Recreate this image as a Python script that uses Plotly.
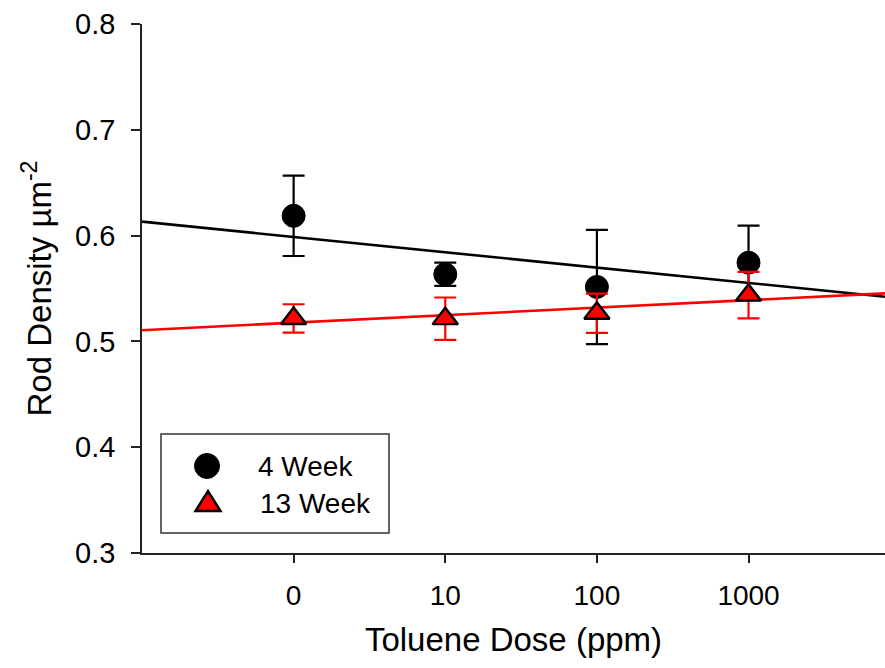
import numpy as np
import plotly.graph_objects as go

doses = ["0", "10", "100", "1000"]
xpos = [0, 1, 2, 3]
series_names = ["4 Week", "13 Week"]
week4 = [0.6187, 0.5634, 0.5515, 0.5744]
week4_err = [0.038, 0.011, 0.054, 0.035]
week13 = [0.5217, 0.5215, 0.5266, 0.5437]
week13_err = [0.0134, 0.020, 0.0185, 0.022]
y_ticks = [0.3, 0.4, 0.5, 0.6, 0.7, 0.8]

x_range = [-1.0, 3.9]
FONT = "Liberation Sans, Arial, sans-serif"
AX = "#222222"

# plot area in pixels (for placing the legend frame)
L, R, T, B = 142, 885, 24, 553
def px(x):
    return (x - L) / (R - L)
def py(y):
    return (B - y) / (B - T)

fig = go.Figure()

# linear regression lines
xl = np.array(x_range)
for ys, col in [(week4, "black"), (week13, "#ff0000")]:
    m, b = np.polyfit(xpos, ys, 1)
    fig.add_trace(go.Scatter(x=xl, y=m * xl + b, mode="lines",
                             line=dict(color=col, width=2.6),
                             showlegend=False, hoverinfo="skip"))

fig.add_trace(go.Scatter(
    x=xpos, y=week4, mode="markers", name=series_names[0], showlegend=False,
    marker=dict(symbol="circle", size=23, color="black", line=dict(color="black", width=1)),
    error_y=dict(type="data", array=week4_err, color="black", thickness=2.2, width=11),
    cliponaxis=False))
fig.add_trace(go.Scatter(
    x=xpos, y=week13, mode="markers", name=series_names[1], showlegend=False,
    marker=dict(symbol="triangle-up", size=22, color="#ff0000", line=dict(color="black", width=2.4)),
    error_y=dict(type="data", array=week13_err, color="#ff0000", thickness=2.2, width=11),
    cliponaxis=False))

# legend (frame, symbols, labels)
fig.add_shape(type="rect", xref="paper", yref="paper",
              x0=px(161), x1=px(389), y0=py(533), y1=py(434),
              line=dict(color="#333333", width=1.5), fillcolor="white", layer="above")
fig.add_shape(type="circle", xref="paper", yref="paper",
              xsizemode="pixel", ysizemode="pixel",
              xanchor=px(207), yanchor=py(466), x0=-12.5, x1=12.5, y0=-12.5, y1=12.5,
              line=dict(color="black", width=1), fillcolor="black", layer="above")
fig.add_shape(type="path", xref="paper", yref="paper",
              xsizemode="pixel", ysizemode="pixel",
              xanchor=px(208), yanchor=py(501),
              path="M -12.5,-10 L 12.5,-10 L 0,10 Z",
              line=dict(color="black", width=2.5), fillcolor="#ff0000", layer="above")
for name, yc, xl0 in [(series_names[0], 466, 256), (series_names[1], 503, 258)]:
    fig.add_annotation(xref="paper", yref="paper", x=px(xl0), y=py(yc),
                       xanchor="left", yanchor="middle", text=name, showarrow=False,
                       font=dict(family=FONT, size=28, color="black"))

fig.update_layout(
    width=885, height=668,
    margin=dict(l=L, r=885 - R, t=T, b=668 - B),
    paper_bgcolor="white", plot_bgcolor="white",
    font=dict(family=FONT, color="black", size=28),
    showlegend=False,
    xaxis=dict(range=x_range, tickmode="array", tickvals=xpos, ticktext=doses,
               showgrid=False, zeroline=False, showline=True, linecolor=AX, linewidth=1.5,
               ticks="outside", ticklen=8, tickwidth=1.5, tickcolor=AX,
               tickfont=dict(size=28), ticklabelstandoff=9,
               title=dict(text="Toluene Dose (ppm)", font=dict(size=33), standoff=18)),
    yaxis=dict(range=[0.3, 0.8], tickmode="array", tickvals=y_ticks,
               ticktext=[f"{v:.1f}" for v in y_ticks],
               showgrid=False, zeroline=False, showline=True, linecolor=AX, linewidth=1.5,
               ticks="outside", ticklen=9, tickwidth=1.5, tickcolor=AX,
               tickfont=dict(size=29), ticklabelstandoff=10,
               title=dict(text="Rod Density µm<sup>-2</sup>", font=dict(size=33), standoff=14)),
)

fig.write_html("out.html")
